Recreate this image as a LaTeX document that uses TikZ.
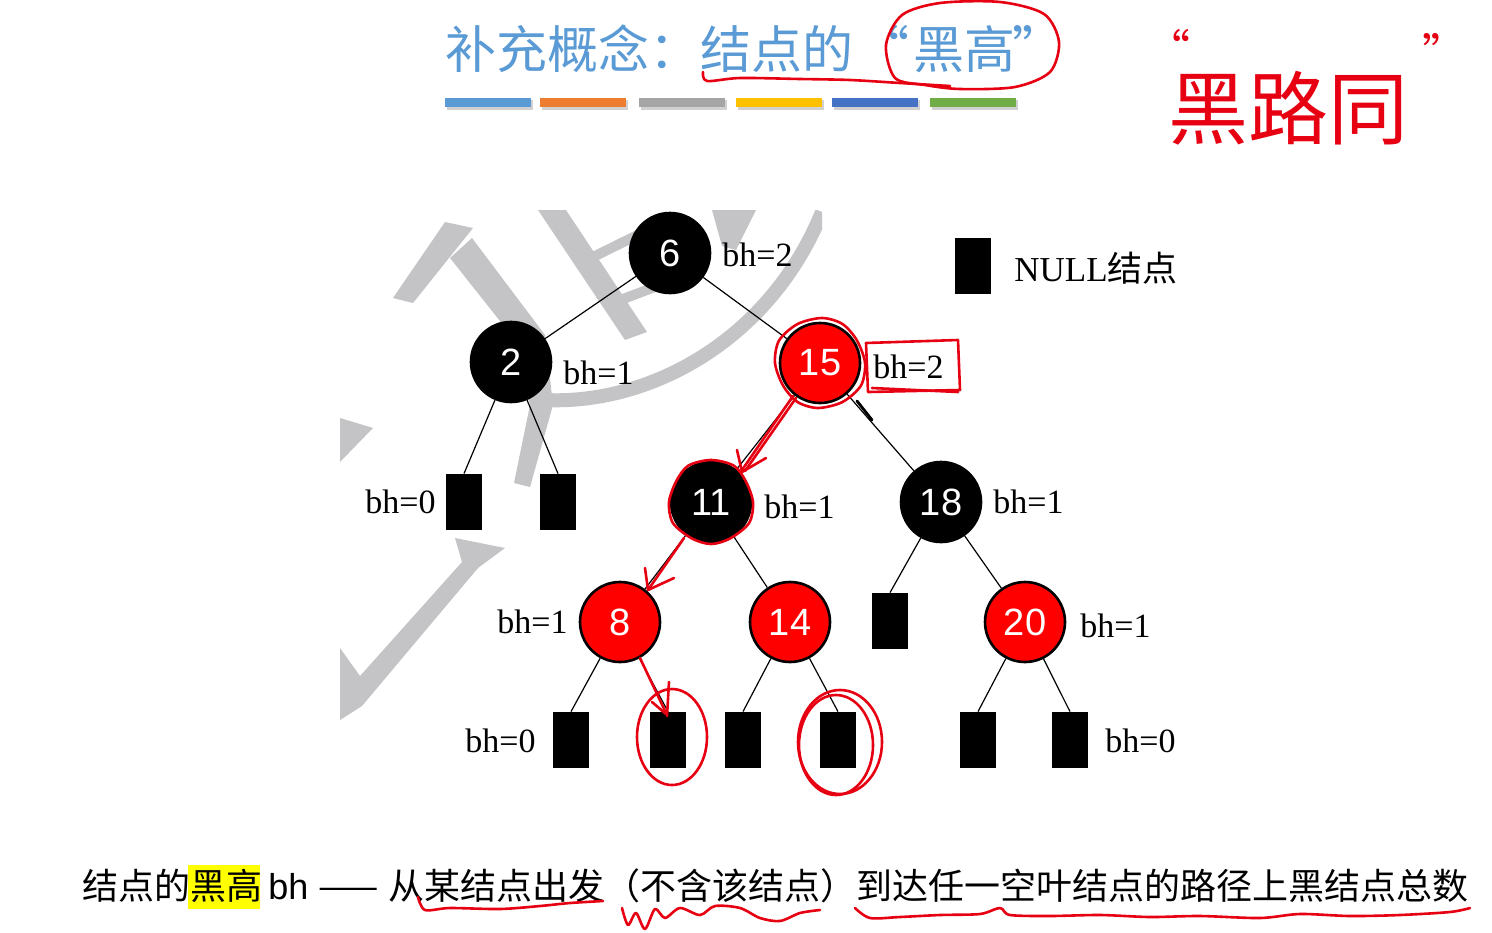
\documentclass[tikz,border=0pt]{standalone}
\usepackage{fontspec}
\setmainfont{Liberation Serif}
\setsansfont{Liberation Sans}
\newfontfamily\cjk{Noto Sans CJK SC}
\usetikzlibrary{arrows.meta}
\definecolor{titleblue}{HTML}{5B9BD5}
\definecolor{barA}{HTML}{5B9BD5}
\definecolor{barB}{HTML}{ED7D31}
\definecolor{barC}{HTML}{A5A5A5}
\definecolor{barD}{HTML}{FFC000}
\definecolor{barE}{HTML}{4472C4}
\definecolor{barF}{HTML}{70AD47}
\definecolor{annred}{HTML}{E60012}
\definecolor{nodered}{HTML}{FF0000}
\definecolor{wmgray}{HTML}{C4C4C7}
\definecolor{hlyellow}{HTML}{FFFF00}
\tikzset{
  rbnode/.style={circle, minimum size=40pt, inner sep=0pt, text=white,
    font=\sffamily\fontsize{19}{19}\selectfont, line width=1.3pt},
  blknode/.style={rbnode, fill=black, draw=black},
  rednode/.style={rbnode, fill=nodered, draw=black},
  nullbox/.style={rectangle, fill=black, minimum width=18pt, minimum height=28pt, inner sep=0pt},
  lbl/.style={font=\fontsize{17}{17}\selectfont, inner sep=0pt},
  edge/.style={line width=0.6pt},
  ann/.style={draw=annred, line width=1.3pt, line cap=round, line join=round},
  titletext/.style={text=titleblue, font=\cjk\fontsize{25.5}{25.5}\selectfont, inner sep=0pt},
  bottomtext/.style={font=\cjk\fontsize{18}{18}\selectfont, inner sep=0pt},
}
\begin{document}
\begin{tikzpicture}[x=0.5pt,y=-0.5pt]
\useasboundingbox (0,0) rectangle (1492,932);
\fill[white] (0,0) rectangle (1492,932);

% ---------- watermark ----------
\begin{scope}
\clip (340,210) rectangle (822,720);
\fill[wmgray] (393,298) -- (445,222) -- (473,228) -- (413,303) -- cycle;
\fill[wmgray] (450,258) -- (472,238) -- (545,335) -- (553,405) -- (530,487) -- (514,483) -- (530,405) -- (515,340) -- cycle;
\draw[wmgray, line width=7pt] (545,400) .. controls (650,405) and (770,340) .. (822,212);
\fill[wmgray] (538,210) -- (566,210) -- (647,332) -- (625,340) -- cycle;
\draw[wmgray, line width=5pt] (595,256) -- (668,220);
\draw[wmgray, line width=5pt] (615,302) -- (668,282);
\fill[wmgray] (712,210) -- (756,210) -- (736,250) -- (722,246) -- cycle;
\fill[wmgray] (340,418) -- (373,428) -- (340,462) -- cycle;
\fill[wmgray] (455,538) -- (505,548) -- (478,568) -- (362,706) -- (340,720) -- (340,648) -- (360,676) -- (462,562) -- cycle;
\end{scope}

% ---------- colour bars ----------
\foreach \xa/\c in {445/barA, 540/barB, 639/barC, 736/barD, 832/barE, 930/barF}{
  \fill[black!18] (\xa+2,100) rectangle (\xa+88,110);
  \fill[\c] (\xa,98) rectangle (\xa+86,107);
}

% ---------- title ----------
\node[titletext, anchor=base west] (t1) at (445,68) {补充概念：结点的};
\node[titletext, anchor=base] (tq1) at (884,68) {“};
\node[titletext, anchor=base] (t2) at (964,68) {黑高};
\node[titletext, anchor=base] (tq2) at (1038,68) {”};

% ---------- tree ----------
\node[blknode] (n6) at (670,253) {6};
\node[blknode] (n2) at (511,362) {2};
\node[rednode] (n15) at (820,363) {15};
\node[blknode] (n11) at (711,502) {11};
\node[blknode] (n18) at (941,502) {18};
\node[rednode] (n8) at (620,622) {8};
\node[rednode] (n14) at (790,622) {14};
\node[rednode] (n20) at (1025,622) {20};
\node[nullbox] (a1) at (464,502) {};
\node[nullbox] (a2) at (558,502) {};
\node[nullbox] (a3) at (890,621) {};
\node[nullbox] (b1) at (571,740) {};
\node[nullbox] (b2) at (668,740) {};
\node[nullbox] (b3) at (743,740) {};
\node[nullbox] (b4) at (838,740) {};
\node[nullbox] (b5) at (978,740) {};
\node[nullbox] (b6) at (1070,740) {};
\node[nullbox] (leg) at (973,266) {};
\node[inner sep=0pt, anchor=west, font=\fontsize{17.5}{17.5}\selectfont] (legt) at (1014,268) {NULL{\cjk 结点}};

\draw[edge] (n6) -- (n2);
\draw[edge] (n6) -- (n15);
\draw[edge] (n2) -- (a1.north);
\draw[edge] (n2) -- (a2.north);
\draw[edge] (n15) -- (n11);
\draw[edge] (n15) -- (n18);
\draw[edge] (n11) -- (n8);
\draw[edge] (n11) -- (n14);
\draw[edge] (n18) -- (a3.north);
\draw[edge] (n18) -- (n20);
\draw[edge] (n8) -- (b1.north);
\draw[edge] (n8) -- (b2.north);
\draw[edge] (n14) -- (b3.north);
\draw[edge] (n14) -- (b4.north);
\draw[edge] (n20) -- (b5.north);
\draw[edge] (n20) -- (b6.north);
\draw[line width=1.4pt, line cap=round] (857,401) -- (872,420);

\node[lbl, anchor=west] (l6) at (722,255) {bh=2};
\node[lbl, anchor=west] (l2) at (563,373) {bh=1};
\node[lbl, anchor=west] (l15) at (873,367) {bh=2};
\node[lbl, anchor=east] (la1) at (436,502) {bh=0};
\node[lbl, anchor=west] (l11) at (764,507) {bh=1};
\node[lbl, anchor=west] (l18) at (993,502) {bh=1};
\node[lbl, anchor=east] (l8) at (568,622) {bh=1};
\node[lbl, anchor=west] (l20) at (1080,626) {bh=1};
\node[lbl, anchor=east] (lb1) at (536,741) {bh=0};
\node[lbl, anchor=west] (lb6) at (1105,741) {bh=0};

% ---------- bottom text ----------
\fill[hlyellow] (188,865) rectangle (260,909);
\node[bottomtext, anchor=base west] (bt1) at (82,899) {结点的};
\node[bottomtext, anchor=base west] (bt2) at (190,899) {黑高};
\node[inner sep=0pt, anchor=base west, font=\sffamily\fontsize{18}{18}\selectfont] (bt3) at (268,899) {bh};
\node[bottomtext, anchor=base west] (bt4) at (318,899) {——};
\node[bottomtext, anchor=base west] (bt5) at (388,899) {从某结点出发（不含该结点）到达任一空叶结点的路径上黑结点总数};

% ---------- red handwriting ----------
\node[text=annred, font=\cjk\fontsize{40}{40}\selectfont, inner sep=0pt] (hw) at (1288,108) {黑路同};
\node[text=annred, font=\cjk\fontsize{22}{22}\selectfont, inner sep=0pt] (hq1) at (1168,48) {“};
\node[text=annred, font=\cjk\fontsize{22}{22}\selectfont, inner sep=0pt] (hq2) at (1444,52) {”};

\draw[ann] plot[smooth] coordinates {(703,72) (707,81) (740,78) (800,79) (850,80) (900,83) (950,86)};
\draw[ann] plot[smooth cycle] coordinates {(895,78) (886,45) (902,15) (940,3) (1000,2) (1044,14) (1059,42) (1050,72) (1015,87) (960,89) (925,85)};

\draw[ann] plot[smooth cycle, domain=0:330, samples=12] ({820+45*cos(\x)+2*sin(3*\x)}, {363+45*sin(\x)});
\draw[ann] (866,343) -- (958,340) -- (960,390) -- (868,392) -- cycle;
\draw[ann] (872,388) -- (958,392);
\draw[ann] (793,396) -- (742,470);
\draw[ann] (796,398) -- (745,471);
\draw[ann] (737,450) -- (742,472) -- (766,458);
\draw[ann] plot[smooth cycle, domain=0:330, samples=12] ({711+42*cos(\x)+2*sin(4*\x)}, {502+42*sin(\x)});
\draw[ann] (684,538) -- (648,590);
\draw[ann] (645,568) -- (648,590) -- (674,578);
\draw[ann] (640,658) -- (666,713);
\draw[ann] (652,702) -- (666,714);
\draw[ann] (669,682) -- (667,716);
\draw[ann] (672,737) ellipse [x radius=35, y radius=48];
\draw[ann] (840,742) ellipse [x radius=42, y radius=52];
\draw[ann] (836,745) ellipse [x radius=37, y radius=50];

\draw[ann] plot[smooth] coordinates {(418,897) (425,910) (450,908) (500,909) (540,906) (570,903) (603,901)};
\draw[ann] plot[smooth] coordinates {(622,908) (628,925) (636,913) (645,929) (655,909) (665,918) (680,908) (700,915) (715,906) (740,908) (760,918) (780,921) (800,913) (820,910)};
\draw[ann] plot[smooth] coordinates {(855,908) (870,918) (900,917) (940,915) (980,914) (1000,908) (1010,915) (1050,916) (1100,915) (1150,917) (1200,916) (1260,918) (1300,914) (1350,916) (1400,915) (1450,912) (1470,908)};
\end{tikzpicture}
\end{document}
